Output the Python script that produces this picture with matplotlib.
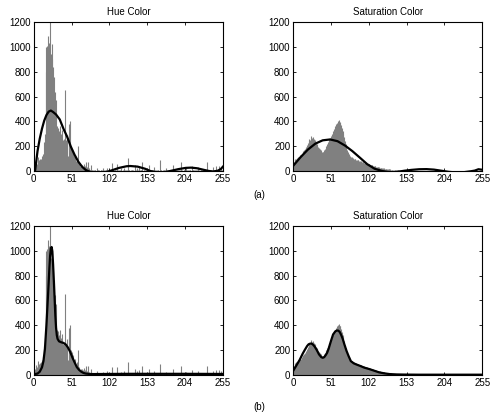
import numpy as np
import matplotlib
matplotlib.use("Agg")
from matplotlib import pyplot as plt

plt.rcParams["font.family"] = ["Liberation Sans", "DejaVu Sans"]
plt.rcParams["font.size"] = 7

# histogram counts per bin (0..255)
hue_counts = [
    10, 30, 45, 80, 60, 90, 110, 85, 95, 70, 100, 120, 95, 140, 230, 300,
    800, 1000, 1010, 1090, 1035, 1000, 1200, 940, 1020, 900, 835, 760, 640, 140, 570, 360,
    340, 350, 320, 360, 300, 280, 330, 250, 240, 260, 650, 250, 230, 290, 120, 380,
    300, 400, 200, 180, 150, 160, 120, 130, 90, 80, 100, 70, 200, 60, 40, 50,
    30, 45, 35, 55, 30, 40, 20, 70, 30, 75, 20, 15, 10, 50, 10, 5,
    6, 4, 8, 5, 3, 27, 6, 4, 7, 3, 5, 8, 4, 21, 5, 3,
    6, 4, 8, 27, 5, 3, 7, 4, 6, 67, 4, 8, 3, 5, 6, 4,
    59, 5, 3, 7, 4, 21, 6, 3, 5, 8, 27, 4, 6, 3, 5, 101,
    4, 7, 3, 5, 6, 4, 8, 3, 48, 5, 4, 27, 6, 3, 40, 5,
    7, 4, 75, 3, 6, 5, 4, 8, 3, 5, 6, 48, 4, 7, 3, 5,
    6, 4, 32, 5, 3, 7, 4, 6, 5, 3, 85, 4, 6, 3, 5, 7,
    4, 6, 21, 3, 5, 8, 4, 6, 3, 5, 7, 48, 4, 6, 3, 5,
    7, 4, 6, 3, 5, 8, 75, 4, 6, 3, 5, 7, 4, 21, 6, 3,
    5, 8, 4, 6, 3, 37, 5, 7, 4, 6, 3, 5, 8, 32, 4, 6,
    3, 5, 7, 4, 6, 3, 5, 8, 4, 6, 75, 3, 5, 7, 4, 6,
    3, 32, 5, 8, 4, 40, 6, 3, 5, 7, 37, 4, 6, 27, 5, 30,
]
sat_counts = [
    60, 75, 85, 95, 100, 105, 95, 110, 115, 120, 130, 125, 140, 150, 160, 170,
    175, 185, 195, 210, 225, 240, 260, 250, 280, 255, 265, 275, 260, 250, 240, 225,
    215, 205, 195, 185, 175, 170, 165, 155, 150, 155, 165, 175, 185, 200, 215, 235,
    245, 255, 265, 280, 290, 300, 320, 335, 350, 360, 375, 390, 385, 400, 410, 395,
    390, 370, 345, 320, 295, 270, 240, 215, 195, 170, 155, 140, 130, 120, 115, 110,
    108, 104, 100, 97, 94, 92, 90, 87, 85, 83, 80, 78, 76, 74, 72, 70,
    68, 66, 64, 62, 60, 58, 56, 54, 52, 50, 48, 46, 44, 42, 40, 38,
    36, 34, 32, 31, 29, 28, 26, 25, 23, 22, 20, 19, 18, 17, 16, 15,
    14, 13, 12, 12, 11, 10, 10, 9, 8, 8, 7, 7, 6, 6, 6, 5,
    5, 5, 4, 4, 4, 4, 3, 3, 3, 3, 3, 3, 2, 2, 2, 2,
    2, 2, 2, 2, 2, 2, 2, 3, 2, 2, 2, 2, 2, 2, 2, 2,
    2, 2, 3, 2, 2, 2, 2, 2, 2, 2, 2, 1, 2, 2, 2, 2,
    2, 1, 2, 2, 2, 1, 2, 2, 1, 2, 2, 1, 2, 1, 2, 1,
    1, 2, 1, 1, 2, 1, 1, 2, 1, 1, 1, 2, 1, 1, 1, 1,
    1, 1, 1, 1, 1, 1, 1, 1, 1, 1, 1, 1, 2, 1, 1, 1,
    1, 1, 1, 1, 1, 2, 1, 1, 1, 1, 2, 1, 1, 1, 1, 3,
]

# fitted curves
hue_a_x = [0, 2, 5, 8, 11, 14, 17, 20, 23, 26, 30, 35, 40, 45, 50, 55, 60, 65, 70, 73, 80, 90,
           100, 105, 115, 125, 130, 140, 150, 157, 165, 175, 184, 195, 205, 212, 220, 230, 236,
           242, 248, 252, 255]
hue_a_y = [-60, 15, 160, 260, 340, 405, 450, 478, 487, 475, 455, 415, 340, 275, 195, 130, 75, 35,
           8, 0, -15, -20, -5, 5, 25, 38, 40, 35, 18, 0, -10, -12, 0, 15, 25, 27, 22, 8, 0,
           -4, 2, 15, 35]
sat_a_x = [0, 10, 20, 30, 40, 50, 60, 70, 80, 90, 100, 110, 120, 128, 136, 144, 150, 160, 170,
           180, 190, 200, 210, 220, 230, 240, 245, 250, 255]
sat_a_y = [40, 110, 172, 220, 247, 254, 240, 205, 160, 108, 55, 18, 0, -8, -10, -4, 2, 9, 14,
           15, 11, 2, -7, -12, -10, -2, 3, 14, 10]
hue_b_x = [0, 5, 8, 11, 13, 15, 17, 19, 20, 21, 22, 23, 24, 25, 26, 27, 28, 29, 30, 31, 32, 34,
           37, 40, 43, 46, 49, 52, 55, 58, 61, 64, 67, 70, 75, 80, 100, 130, 160, 200, 255]
hue_b_y = [5, 10, 25, 60, 110, 210, 400, 624, 740, 860, 960, 1020, 1030, 995, 890, 760, 624,
           480, 380, 320, 290, 270, 262, 257, 245, 220, 185, 140, 100, 62, 40, 25, 15, 10, 7,
           6, 7, 8, 8, 8, 7]
sat_b_x = [0, 5, 9, 13, 16, 19, 21, 23, 25, 27, 29, 32, 35, 38, 40, 42, 44, 46, 48, 51, 54, 57,
           59, 61, 63, 65, 67, 69, 72, 75, 78, 82, 86, 90, 96, 103, 110, 116, 123, 130, 140,
           150, 170, 200, 255]
sat_b_y = [30, 80, 121, 170, 202, 232, 246, 251, 252, 243, 229, 200, 165, 143, 137, 142, 158,
           178, 210, 270, 325, 350, 357, 356, 345, 320, 290, 250, 195, 150, 110, 92, 82, 73, 58,
           46, 32, 20, 12, 6, 3, 2, 1, 1, 1]

bins = np.arange(256)
xticks = [0, 51, 102, 153, 204, 255]
yticks = [0, 200, 400, 600, 800, 1000, 1200]

fig = plt.figure(figsize=(4.9, 4.16), dpi=100)

panels = [
    (0.069, 0.589, "Hue Color", hue_counts, hue_a_x, hue_a_y),
    (0.598, 0.589, "Saturation Color", sat_counts, sat_a_x, sat_a_y),
    (0.069, 0.099, "Hue Color", hue_counts, hue_b_x, hue_b_y),
    (0.598, 0.099, "Saturation Color", sat_counts, sat_b_x, sat_b_y),
]

for left, bottom, title, counts, cx, cy in panels:
    ax = fig.add_axes([left, bottom, 0.386, 0.358])
    ax.vlines(bins, 0, counts, color="#808080", linewidth=0.8)
    ax.plot(cx, cy, color="black", linewidth=1.6)
    ax.set_xlim(0, 255)
    ax.set_ylim(0, 1200)
    ax.set_xticks(xticks)
    ax.set_yticks(yticks)
    ax.tick_params(direction="in", top=True, right=True, length=2.5, width=0.6, pad=2,
                   labelsize=7)
    for s in ax.spines.values():
        s.set_linewidth(0.8)
    ax.set_title(title, fontsize=7, pad=5)

fig.text(0.529, 0.531, "(a)", ha="center", va="center", fontsize=7)
fig.text(0.529, 0.022, "(b)", ha="center", va="center", fontsize=7)

fig.savefig("out.png", dpi=100)
